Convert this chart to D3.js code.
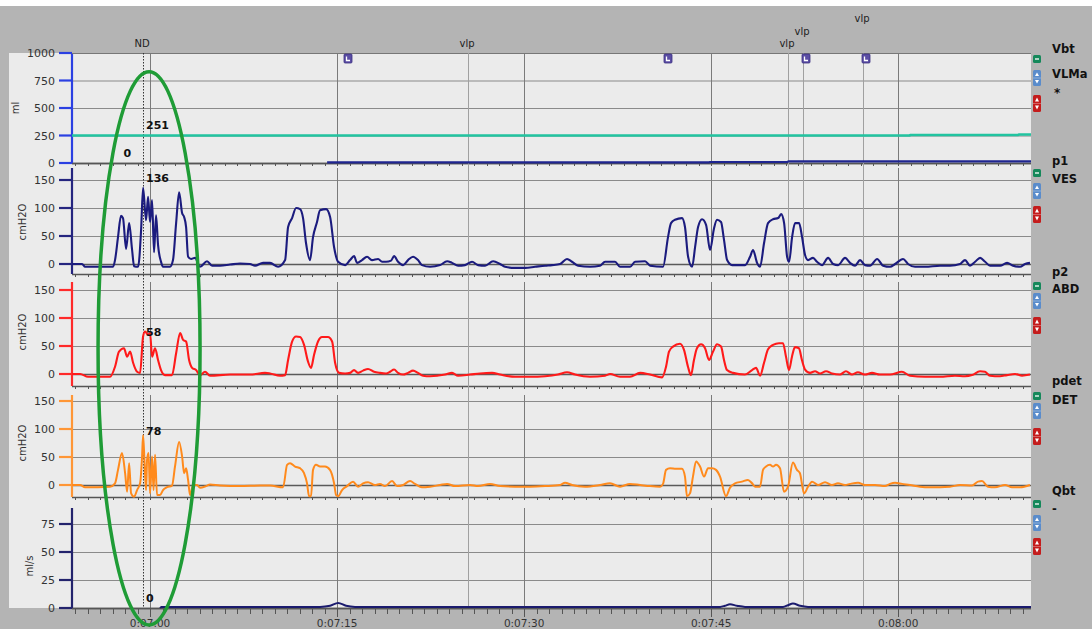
<!DOCTYPE html>
<html>
<head>
<meta charset="utf-8">
<script src="https://cdn.jsdelivr.net/npm/d3@7"></script>
<style>
  body { margin: 0; background: #fff; }
  svg { display: block; }
  text { font-family: "DejaVu Sans", sans-serif; }
</style>
</head>
<body>
<script>
// time is in seconds after 0:07:00
var majorTimes = [0, 15, 30, 45, 60];

// channels, top to bottom
var unitLabels = ['ml', 'cmH2O', 'cmH2O', 'cmH2O', 'ml/s'];
var yTicks = [[0, 250, 500, 750, 1000], [0, 50, 100, 150], [0, 50, 100, 150], [0, 50, 100, 150], [0, 25, 50, 75]];
var legendUpper = ['Vbt', 'p1', 'p2', 'pdet', 'Qbt'];
var legendLower = ['VLMa', 'VES', 'ABD', 'DET', '-'];

// events along the top
var eventNames = ['ND', 'vlp', 'vlp', 'vlp', 'vlp'];
var eventTimes = [-0.56, 25.5, 51.16, 52.37, 57.18];
var markerTimes = [15.88, 41.54, 52.61, 57.42];

// cursor readings at ND
var readPanel = [0, 0, 1, 2, 3, 4];
var readValue = [251, 0, 136, 58, 78, 0];

var vbtPts = [[-6.26, 250], [60.9, 250], [61.0, 255], [69.6, 255], [69.7, 259], [70.65, 259]];
var vlmaPts = [[14.2, 5], [44.8, 5], [44.9, 9], [51.1, 9], [51.2, 15], [70.65, 15]];

var vesPts = [[-6.26,0],[-5.45,0],[-5.21,-5],[-2.97,-5],[-2.81,7],[-2.57,48],[-2.33,86],[-2.17,82],[-1.92,27],[-1.68,73],[-1.44,25],[-1.28,-4],[-0.96,-5],[-0.72,60],[-0.56,136],[-0.32,78],[-0.16,120],[0,75],[0.16,114],[0.32,21],[0.48,87],[0.64,34],[0.88,4],[1.04,-5],[1.6,-5],[1.84,7],[2.09,73],[2.33,128],[2.57,91],[2.73,84],[2.89,66],[3.05,13],[3.29,9],[3.61,11],[4.01,-5],[4.57,5],[4.97,-3],[5.61,-3],[6.42,-1],[7.22,1],[8.02,0],[8.42,-3],[9.06,2],[9.62,2],[10.27,-5],[10.83,7],[11.07,66],[11.39,82],[11.71,100],[12.03,98],[12.27,82],[12.51,37],[12.83,7],[13.07,48],[13.39,75],[13.63,96],[14.12,98],[14.44,84],[14.76,30],[15.08,4],[15.64,-2],[16.04,7],[16.36,14],[16.6,2],[17,7],[17.4,13],[17.8,7],[18.29,9],[18.61,4],[18.93,4],[19.33,6],[19.57,14],[19.89,4],[20.29,-2],[20.69,7],[21.09,13],[21.49,7],[21.81,-2],[22.46,-5],[23.26,-2],[23.82,5],[24.22,2],[24.7,-3],[25.26,-2],[25.82,4],[26.31,-2],[26.87,-3],[27.51,5],[28.07,0],[28.47,-5],[29.27,-7],[30.08,-7],[30.88,-5],[31.68,-3],[32.24,-2],[32.88,0],[33.44,9],[33.84,4],[34.33,-3],[35.29,-5],[36.09,-3],[36.49,4],[37.29,4],[37.69,-5],[38.5,-5],[38.9,4],[39.7,5],[40.1,-3],[41.14,-5],[41.54,48],[41.78,73],[42.1,79],[42.66,82],[42.9,66],[43.15,13],[43.47,-5],[43.71,30],[43.95,66],[44.27,80],[44.59,70],[44.91,25],[45.23,64],[45.47,79],[45.79,75],[46.03,43],[46.28,7],[46.68,-2],[47.72,-2],[48.12,13],[48.36,25],[48.68,2],[48.92,-5],[49.24,37],[49.56,73],[49.96,80],[50.37,82],[50.61,89],[50.85,73],[51.09,13],[51.25,4],[51.49,48],[51.73,73],[52.05,73],[52.29,48],[52.53,16],[52.77,7],[53.17,11],[53.49,4],[53.89,-2],[54.38,11],[54.78,0],[55.18,-2],[55.74,11],[56.14,2],[56.54,-3],[56.94,7],[57.34,-2],[57.74,-3],[58.31,9],[58.79,-3],[59.35,-5],[59.75,0],[60.39,9],[60.79,0],[61.35,-5],[62.16,-5],[63.36,-3],[64.16,-3],[64.96,0],[65.36,7],[65.76,-3],[66.17,4],[66.57,11],[66.97,4],[67.37,-3],[68.17,-3],[68.73,2],[69.21,-3],[69.77,-5],[70.17,0],[70.57,2]];

var abdPts = [[-6.26,0],[-5.61,0],[-4.97,-5],[-3.21,-5],[-2.81,13],[-2.49,40],[-2.09,46],[-1.84,31],[-1.6,40],[-1.36,20],[-1.04,4],[-0.8,2],[-0.56,67],[-0.4,76],[-0.16,70],[0,73],[0.16,31],[0.4,46],[0.64,25],[0.88,7],[1.2,-2],[1.76,-2],[2.09,37],[2.41,73],[2.65,61],[2.89,58],[3.13,25],[3.37,11],[3.69,7],[4.01,-2],[4.41,4],[4.81,-3],[6.42,-1],[8.02,-1],[9.22,2],[9.62,1],[10.42,-3],[10.83,-2],[11.07,25],[11.39,58],[11.71,67],[12.03,66],[12.35,52],[12.67,22],[12.91,11],[13.15,34],[13.47,58],[13.79,66],[14.27,66],[14.6,58],[14.84,20],[15.16,2],[15.64,1],[16.04,2],[16.36,7],[16.68,2],[17.08,6],[17.48,9],[17.96,4],[18.44,2],[18.93,1],[19.25,4],[19.57,8],[19.89,2],[20.29,-1],[20.69,2],[21.09,6],[21.49,2],[21.89,-3],[22.45,-4],[23.66,-1],[24.22,2],[24.7,-3],[25.66,-1],[26.46,1],[27.43,2],[28.07,-1],[29.27,-5],[30.47,-5],[31.68,-4],[32.72,-1],[33.44,3],[34.08,-1],[35.28,-5],[36.49,-3],[36.89,0],[37.69,-5],[38.49,-5],[39.3,2],[40.1,-1],[41.06,-6],[41.38,13],[41.62,40],[41.94,49],[42.5,54],[42.82,43],[43.14,13],[43.38,-2],[43.62,25],[43.86,46],[44.19,53],[44.51,46],[44.83,25],[45.15,40],[45.47,53],[45.79,49],[46.03,25],[46.27,7],[46.75,2],[47.71,-1],[48.28,7],[48.6,11],[48.92,-3],[49.24,20],[49.56,44],[49.96,52],[50.44,55],[50.76,55],[51,31],[51.24,7],[51.48,31],[51.72,48],[52.04,46],[52.28,25],[52.53,8],[52.93,2],[53.33,5],[53.73,1],[54.21,5],[54.69,1],[55.33,-1],[55.81,5],[56.29,-1],[56.77,3],[57.34,-1],[57.9,2],[58.54,-1],[59.34,-1],[60.3,4],[60.94,-3],[62.15,-5],[63.35,-5],[64.55,-3],[65.36,-4],[65.92,-2],[66.56,5],[66.96,4],[67.36,-3],[68.16,-4],[68.72,-2],[69.37,0],[69.93,-3],[70.57,-1]];

var detPts = [[-6.26,0],[-5.61,0],[-5.21,-4],[-3.21,-3],[-2.81,3],[-2.57,27],[-2.25,57],[-2,21],[-1.84,-12],[-1.68,39],[-1.52,-15],[-1.28,-21],[-1.04,-9],[-0.8,3],[-0.64,51],[-0.56,89],[-0.44,39],[-0.32,-9],[-0.24,45],[-0.12,57],[0,-15],[0.16,51],[0.28,-9],[0.4,54],[0.56,-18],[0.8,-18],[1.04,-9],[1.36,-4],[1.76,-1],[2,33],[2.33,77],[2.57,51],[2.73,21],[2.89,30],[3.05,9],[3.21,-18],[3.45,0],[3.77,0],[4.01,-5],[4.49,-2],[4.81,1],[5.61,-1],[7.22,-2],[8.82,-1],[9.62,-1],[10.67,-4],[10.99,36],[11.23,39],[11.63,33],[12.03,30],[12.35,21],[12.59,3],[12.75,-20],[12.91,-20],[13.07,27],[13.31,36],[13.63,33],[14.03,33],[14.43,27],[14.76,3],[14.92,-18],[15.08,-20],[15.4,-9],[15.8,-2],[16.28,6],[16.68,-3],[17.08,3],[17.48,5],[18.04,0],[18.44,2],[18.84,-2],[19.41,7],[19.81,-2],[20.29,0],[20.85,7],[21.25,2],[21.81,-4],[22.45,-3],[23.26,0],[23.82,2],[24.46,-2],[25.66,0],[26.3,-2],[27.27,2],[28.07,-2],[29.27,-3],[30.47,-3],[31.68,-2],[32.88,0],[33.28,4],[33.84,0],[34.88,-3],[36.09,0],[36.89,3],[37.69,-3],[38.49,2],[39.3,0],[40.1,-2],[40.9,-3],[41.14,2],[41.38,27],[41.7,30],[42.18,29],[42.66,29],[42.9,15],[43.06,-20],[43.3,-15],[43.54,15],[43.79,42],[44.11,33],[44.43,15],[44.75,30],[45.07,30],[45.39,27],[45.71,15],[46.19,-20],[46.51,-5],[46.91,3],[47.47,6],[47.95,9],[48.28,3],[48.52,-3],[48.92,-3],[49.16,27],[49.4,33],[49.72,36],[49.96,33],[50.2,36],[50.52,30],[50.84,-12],[51.16,-3],[51.56,40],[51.88,27],[52.12,21],[52.45,-15],[52.77,-3],[53.09,6],[53.57,0],[54.13,5],[54.69,0],[55.17,3],[55.73,0],[56.14,2],[56.78,4],[57.34,0],[58.14,0],[58.94,-2],[59.34,2],[59.75,4],[60.31,2],[60.95,0],[61.75,-3],[62.55,-4],[64.15,-3],[64.96,0],[65.92,-1],[66.4,6],[66.72,7],[67.2,-3],[67.76,-4],[68.57,0],[69.13,-4],[69.77,-4],[70.57,0]];

var qbtPts = [[0.8,0],[0.9,1],[13.63,1],[14.44,2],[15.08,4.5],[15.72,2],[16.44,1],[45.71,1],[46.11,2],[46.51,3.3],[47.07,2],[47.72,1],[50.76,1],[51.16,2.5],[51.56,4],[52.13,2],[52.77,1],[70.65,1]];

var W = 1092, H = 629;
var svg = d3.select('body').append('svg').attr('width', W).attr('height', H);

var x = d3.scaleLinear().domain([-6.26, 70.65]).range([72, 1031]);

var panels = [
  { top: 53,  bottom: 163, y: d3.scaleLinear().domain([0, 1000]).range([163, 53]), col: '#2b40e2', lx: 15 },
  { top: 168, bottom: 274, y: d3.scaleLinear().domain([0, 150]).range([264, 180]), col: '#25257f', lx: 22 },
  { top: 282, bottom: 386, y: d3.scaleLinear().domain([0, 150]).range([374, 290]), col: '#ff2a2a', lx: 22 },
  { top: 395, bottom: 497, y: d3.scaleLinear().domain([0, 150]).range([485, 401]), col: '#ff9636', lx: 22 },
  { top: 508, bottom: 608, y: d3.scaleLinear().domain([0, 75]).range([608, 524]), col: '#23236c', lx: 29 }
];

function fmtTime(s) {
  var t = 420 + s, m = Math.floor(t / 60), sec = Math.round(t - m * 60);
  return '0:' + (m < 10 ? '0' : '') + m + ':' + (sec < 10 ? '0' : '') + sec;
}

// backgrounds
svg.append('rect').attr('width', W).attr('height', H).attr('fill', '#b4b4b4');
svg.append('rect').attr('width', W).attr('height', 6).attr('fill', '#ffffff');
svg.append('rect').attr('x', 9).attr('y', 53).attr('width', 1031 - 9).attr('height', 608 - 53).attr('fill', '#ebebeb');

var defs = svg.append('defs');
panels.forEach(function(p, i) {
  defs.append('clipPath').attr('id', 'clip' + i)
    .append('rect').attr('x', 72).attr('y', p.top - 1).attr('width', 1031 - 72).attr('height', p.bottom - p.top + 2);
});

var minorTimes = d3.range(-6, 71, 1);

panels.forEach(function(p, i) {
  var g = svg.append('g');
  // horizontal grid
  g.selectAll('line.h').data(yTicks[i].filter(function(d) { return d !== 0; })).enter().append('line')
    .attr('x1', 72).attr('x2', 1031)
    .attr('y1', function(d) { return p.y(d) + 0.5; }).attr('y2', function(d) { return p.y(d) + 0.5; })
    .attr('stroke', '#8a8a8a').attr('stroke-width', 1.2);
  // vertical major grid
  g.selectAll('line.v').data(majorTimes).enter().append('line')
    .attr('x1', function(d) { return Math.round(x(d)) + 0.5; }).attr('x2', function(d) { return Math.round(x(d)) + 0.5; })
    .attr('y1', p.top).attr('y2', p.bottom)
    .attr('stroke', '#7a7a7a').attr('stroke-width', 1);
  // zero line
  g.append('line').attr('x1', 72).attr('x2', 1031).attr('y1', p.y(0) + 0.5).attr('y2', p.y(0) + 0.5)
    .attr('stroke', '#5a5a5a').attr('stroke-width', 1.5);
  // bottom line with second ticks
  var last = (i === panels.length - 1);
  g.append('line').attr('x1', 72).attr('x2', 1031).attr('y1', p.bottom + 0.5).attr('y2', p.bottom + 0.5)
    .attr('stroke', '#555').attr('stroke-width', 1.5);
  g.selectAll('line.m').data(minorTimes).enter().append('line')
    .attr('x1', function(d) { return Math.round(x(d)) + 0.5; }).attr('x2', function(d) { return Math.round(x(d)) + 0.5; })
    .attr('y1', p.bottom).attr('y2', function(d) {
      if (!last) return p.bottom + 3;
      return p.bottom + (majorTimes.indexOf(d) >= 0 ? 9 : 6);
    })
    .attr('stroke', '#555').attr('stroke-width', 1);
  // y axis
  g.append('line').attr('x1', 72).attr('x2', 72).attr('y1', p.top).attr('y2', p.bottom)
    .attr('stroke', p.col).attr('stroke-width', 2.2);
  g.selectAll('line.t').data(yTicks[i]).enter().append('line')
    .attr('x1', 59).attr('x2', 72)
    .attr('y1', function(d) { return p.y(d); }).attr('y2', function(d) { return p.y(d); })
    .attr('stroke', p.col).attr('stroke-width', 2.2);
  g.selectAll('text.t').data(yTicks[i]).enter().append('text')
    .attr('x', 55).attr('y', function(d) { return p.y(d) + 4; })
    .attr('text-anchor', 'end').attr('font-size', 11).attr('fill', '#333')
    .text(function(d) { return d; });
  var ext = d3.extent(yTicks[i]);
  g.append('text')
    .attr('transform', 'translate(' + p.lx + ',' + ((p.y(ext[0]) + p.y(ext[1])) / 2) + ') rotate(-90)')
    .attr('text-anchor', 'middle').attr('dominant-baseline', 'central')
    .attr('font-size', 10).attr('fill', '#333').text(unitLabels[i]);
});

// top border of the first panel
svg.append('line').attr('x1', 72).attr('x2', 1031).attr('y1', 53.5).attr('y2', 53.5).attr('stroke', '#777').attr('stroke-width', 1);

// event lines
var evG = svg.append('g');
eventTimes.forEach(function(t, i) {
  var xx = Math.round(x(t)) + 0.5;
  evG.append('line').attr('x1', xx).attr('x2', xx).attr('y1', 53).attr('y2', 608)
    .attr('stroke', i === 0 ? '#333' : '#a0a0a0').attr('stroke-width', 1)
    .attr('stroke-dasharray', i === 0 ? '1.5,1.5' : null);
});
var eventLevel = [0, 0, 0, 1, 2];
evG.selectAll('text.ev').data(eventNames).enter().append('text')
  .attr('x', function(d, i) { return x(eventTimes[i]) - 1; })
  .attr('y', function(d, i) { return 47 - eventLevel[i] * 12.5; })
  .attr('text-anchor', 'middle').attr('font-size', 10).attr('fill', '#222')
  .text(function(d) { return d; });

// comment markers
markerTimes.forEach(function(t) {
  var cx = Math.round(x(t));
  var mg = svg.append('g');
  mg.append('rect').attr('x', cx - 4).attr('y', 54).attr('width', 8).attr('height', 9).attr('rx', 1)
    .attr('fill', '#5b4ea4').attr('stroke', '#3a2f80').attr('stroke-width', 0.8);
  mg.append('path').attr('d', 'M' + (cx - 1.5) + ',56.5 V60.5 H' + (cx + 2))
    .attr('fill', 'none').attr('stroke', '#fff').attr('stroke-width', 1.3);
});

// traces
var traces = [
  { pts: vbtPts,  panel: 0, col: '#22c4a0', w: 2.6 },
  { pts: vlmaPts, panel: 0, col: '#1f2590', w: 2.2 },
  { pts: vesPts,  panel: 1, col: '#1b1b7e', w: 2.1 },
  { pts: abdPts,  panel: 2, col: '#ff1a1a', w: 2.1 },
  { pts: detPts,  panel: 3, col: '#ff8a1c', w: 2.0 },
  { pts: qbtPts,  panel: 4, col: '#1b1b6e', w: 2.0 }
];
traces.forEach(function(tr) {
  var p = panels[tr.panel];
  var line = d3.line()
    .x(function(d) { return x(d[0]); })
    .y(function(d) { return p.y(d[1]); })
    .curve(tr.panel === 0 ? d3.curveLinear : d3.curveMonotoneX);
  svg.append('path').datum(tr.pts)
    .attr('clip-path', 'url(#clip' + tr.panel + ')')
    .attr('d', line).attr('fill', 'none')
    .attr('stroke', tr.col).attr('stroke-width', tr.w).attr('stroke-linejoin', 'round');
});

// cursor readings
var ndX = x(eventTimes[0]);
readValue.forEach(function(v, i) {
  var p = panels[readPanel[i]];
  var leftSide = (i === 1);
  svg.append('text')
    .attr('x', leftSide ? ndX - 12 : ndX + 3)
    .attr('y', p.y(v) - 6)
    .attr('text-anchor', leftSide ? 'end' : 'start')
    .attr('font-size', 11).attr('font-weight', 'bold').attr('fill', '#111')
    .text(v);
});

// x axis labels
svg.selectAll('text.x').data(majorTimes).enter().append('text')
  .attr('x', function(d) { return x(d); }).attr('y', 627)
  .attr('text-anchor', 'middle').attr('font-size', 10.5).attr('fill', '#333')
  .text(fmtTime);

// legend on the right
var upperBase = [53, 165, 276, 385, 495];
var lowerBase = [78, 183, 293, 404, 513];
var greenTop = [55, 169, 282, 392, 500];
var blueTop = [70, 183, 293, 403, 515];
var redTop = [95, 206, 317, 428, 538];
var lg = svg.append('g');
legendUpper.forEach(function(name, i) {
  lg.append('text').attr('x', 1052).attr('y', upperBase[i]).attr('font-size', 11.5).attr('font-weight', 'bold').attr('fill', '#111').text(name);
  lg.append('text').attr('x', 1052).attr('y', lowerBase[i]).attr('font-size', 11.5).attr('font-weight', 'bold').attr('fill', '#111').text(legendLower[i]);
  var bx = 1033;
  lg.append('rect').attr('x', bx).attr('y', greenTop[i]).attr('width', 8).attr('height', 8).attr('rx', 1.5).attr('fill', '#15885a');
  lg.append('line').attr('x1', bx + 2).attr('x2', bx + 6).attr('y1', greenTop[i] + 4).attr('y2', greenTop[i] + 4).attr('stroke', '#fff').attr('stroke-width', 1.3);
  [[blueTop[i], 16, '#5a8ccb'], [redTop[i], 17, '#c41c1c']].forEach(function(b) {
    var y0 = b[0], h = b[1];
    lg.append('rect').attr('x', bx).attr('y', y0).attr('width', 8).attr('height', h).attr('rx', 1.5).attr('fill', b[2]);
    lg.append('line').attr('x1', bx).attr('x2', bx + 8).attr('y1', y0 + h / 2).attr('y2', y0 + h / 2).attr('stroke', 'rgba(255,255,255,0.5)').attr('stroke-width', 0.6);
    lg.append('path').attr('d', 'M' + (bx + 2) + ',' + (y0 + h / 2 - 2) + ' L' + (bx + 4) + ',' + (y0 + 2.5) + ' L' + (bx + 6) + ',' + (y0 + h / 2 - 2) + 'Z').attr('fill', '#fff');
    lg.append('path').attr('d', 'M' + (bx + 2) + ',' + (y0 + h / 2 + 2) + ' L' + (bx + 6) + ',' + (y0 + h / 2 + 2) + ' L' + (bx + 4) + ',' + (y0 + h - 2.5) + 'Z').attr('fill', '#fff');
  });
});
lg.append('text').attr('x', 1054).attr('y', 97).attr('font-size', 12).attr('font-weight', 'bold').attr('fill', '#111').text('*');

// ellipse drawn around the ND region
var eTop = panels[0].y(830), eBot = panels[4].y(0) + 17;
svg.append('ellipse')
  .attr('cx', x(0) - 1).attr('cy', (eTop + eBot) / 2)
  .attr('rx', 51).attr('ry', (eBot - eTop) / 2)
  .attr('fill', 'none').attr('stroke', '#1f9c36').attr('stroke-width', 3.5);
</script>
</body>
</html>
